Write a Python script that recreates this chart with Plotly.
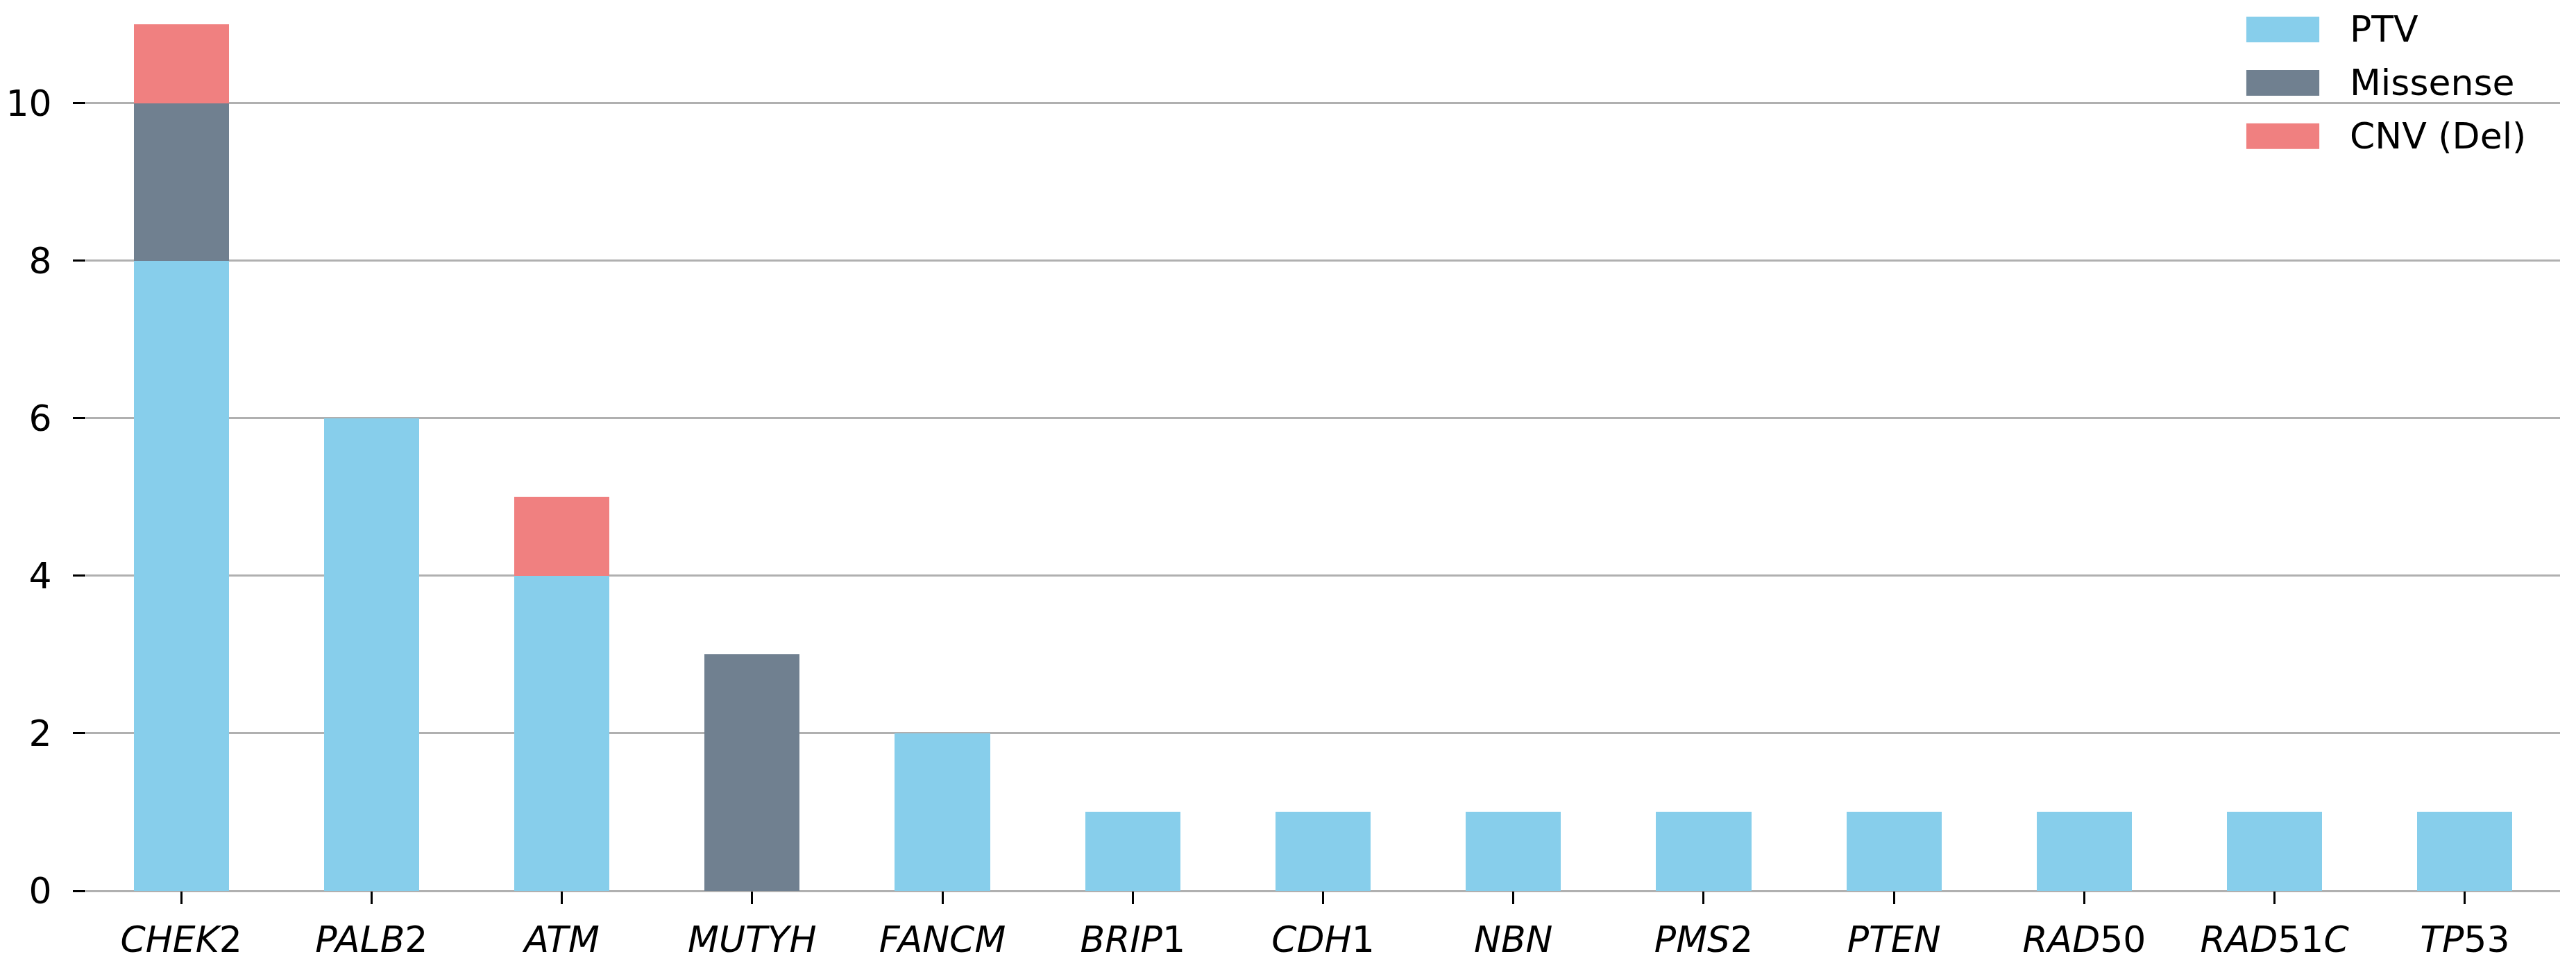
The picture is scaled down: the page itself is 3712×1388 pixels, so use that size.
import plotly.graph_objects as go

# gene list and variant counts per class
genes = ['CHEK2', 'PALB2', 'ATM', 'MUTYH', 'FANCM', 'BRIP1', 'CDH1',
         'NBN', 'PMS2', 'PTEN', 'RAD50', 'RAD51C', 'TP53']
gene_labels = ['<i>CHEK</i>2', '<i>PALB</i>2', '<i>ATM</i>', '<i>MUTYH</i>',
               '<i>FANCM</i>', '<i>BRIP</i>1', '<i>CDH</i>1', '<i>NBN</i>',
               '<i>PMS</i>2', '<i>PTEN</i>', '<i>RAD</i>50', '<i>RAD</i>51<i>C</i>',
               '<i>TP</i>53']
ptv = [8, 6, 4, 0, 2, 1, 1, 1, 1, 1, 1, 1, 1]
missense = [2, 0, 0, 3, 0, 0, 0, 0, 0, 0, 0, 0, 0]
cnv_del = [1, 0, 1, 0, 0, 0, 0, 0, 0, 0, 0, 0, 0]

series_names = ['PTV', 'Missense', 'CNV (Del)']
series_colors = ['#87CEEB', '#708090', '#F08080']
yticks = [0, 2, 4, 6, 8, 10]

FONT = 'DejaVu Sans'

fig = go.Figure()
for name, vals, col in zip(series_names, [ptv, missense, cnv_del], series_colors):
    fig.add_trace(go.Bar(x=genes, y=vals, name=name, marker=dict(color=col, line=dict(width=0)),
                         width=0.5, showlegend=False))

# hand-drawn legend so the swatches can be large like the original
for i, (name, col) in enumerate(zip(series_names, series_colors)):
    yc = 0.973 - i * 0.0603
    fig.add_shape(type='rect', xref='paper', yref='paper',
                  x0=0.8732, x1=0.9027, y0=yc - 0.0145, y1=yc + 0.0145,
                  fillcolor=col, line=dict(width=0))
    fig.add_annotation(xref='paper', yref='paper', x=0.9145, y=yc, text=name,
                       showarrow=False, xanchor='left', yanchor='middle',
                       font=dict(family=FONT, size=52, color='black'))

fig.update_layout(
    barmode='stack',
    width=3712, height=1388,
    margin=dict(l=116, r=31, t=0, b=112),
    plot_bgcolor='white', paper_bgcolor='white',
    font=dict(family=FONT, size=52, color='black'),
    xaxis=dict(range=[-0.5, 12.5], tickmode='array', tickvals=genes, ticktext=gene_labels,
               ticks='outside', ticklen=18, tickwidth=3, tickcolor='black',
               showline=False, showgrid=False, ticklabelstandoff=7),
    yaxis=dict(range=[0, 11.24], tickvals=yticks, ticks='outside', ticklen=18,
               tickwidth=3, tickcolor='black', showgrid=True, gridcolor='#b0b0b0',
               gridwidth=3, zeroline=True, zerolinecolor='#b0b0b0', zerolinewidth=3,
               showline=False, ticklabelstandoff=20),
)

fig.write_html('out.html')
